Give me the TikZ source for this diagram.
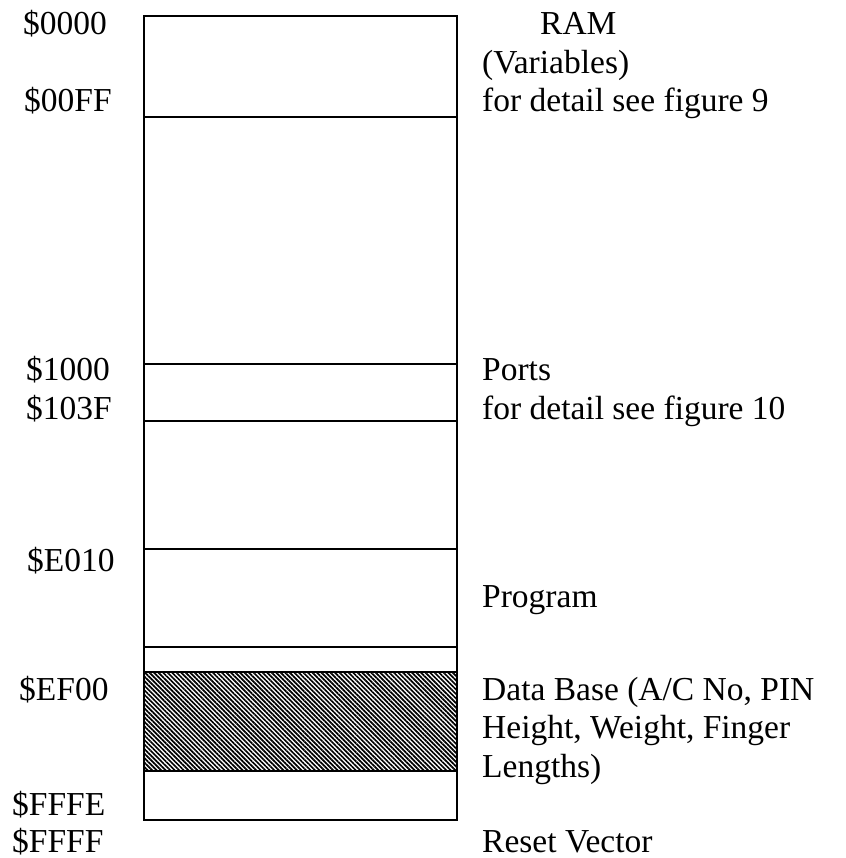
\documentclass[tikz,border=0pt]{standalone}
\usepackage{fontspec}
\setmainfont{Liberation Serif}
\usetikzlibrary{patterns.meta}
\begin{document}
\begin{tikzpicture}[x=1pt,y=-1pt,
  lbl/.style={anchor=base west,inner sep=0pt,font=\fontsize{33.5}{38.5}\selectfont},
  seg/.style={draw,line width=1.8pt,anchor=north west,inner sep=0pt,outer sep=0pt,minimum width=313pt},
  hatch/.style={pattern={Lines[angle=-45,distance=3.2pt,line width=1.7pt]}}]
\useasboundingbox (0,0) rectangle (845,858);
% memory map regions
\node[seg,minimum height=101pt] (ram)   at (144,16)  {};
\node[seg,minimum height=247pt] (gap1)  at (144,117) {};
\node[seg,minimum height=57pt]  (ports) at (144,364) {};
\node[seg,minimum height=128pt] (gap2)  at (144,421) {};
\node[seg,minimum height=98pt]  (prog)  at (144,549) {};
\node[seg,minimum height=25pt]  (gap3)  at (144,647) {};
\node[seg,hatch,minimum height=99pt] (db) at (144,672) {};
\node[seg,minimum height=49pt]  (reset) at (144,771) {};
% addresses
\node[lbl] (a0000) at (23,35)  {\$0000};
\node[lbl] (a00FF) at (24,112) {\$00FF};
\node[lbl] (a1000) at (26,380) {\$1000};
\node[lbl] (a103F) at (26,419) {\$103F};
\node[lbl] (aE010) at (27,571) {\$E010};
\node[lbl] (aEF00) at (19,700) {\$EF00};
\node[lbl] (aFFFE) at (12,815) {\$FFFE};
\node[lbl] (aFFFF) at (12,852) {\$FFFF};
% descriptions
\node[lbl] (tram)  at (540,35)  {RAM};
\node[lbl] (tvar)  at (482,74)  {(Variables)};
\node[lbl] (tfig9) at (482,112) {for detail see figure 9};
\node[lbl] (tport) at (482,380) {Ports};
\node[lbl] (tfig10) at (482,419) {for detail see figure 10};
\node[lbl] (tprog) at (482,607) {Program};
\node[lbl] (tdb1)  at (482,700) {Data Base (A/C No, PIN};
\node[lbl] (tdb2)  at (482,738.5) {Height, Weight, Finger};
\node[lbl] (tdb3)  at (482,777) {Lengths)};
\node[lbl] (treset) at (482,852) {Reset Vector};
\end{tikzpicture}
\end{document}
